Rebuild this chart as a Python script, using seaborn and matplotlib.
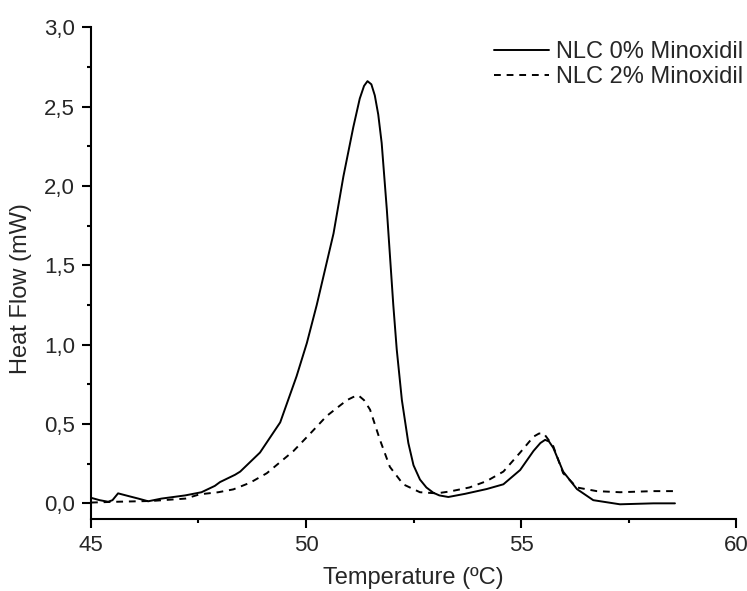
import matplotlib
matplotlib.use("Agg")
import matplotlib.pyplot as plt
import seaborn as sns
import pandas as pd
from matplotlib.ticker import MultipleLocator, FuncFormatter

# NLC 0% Minoxidil (solid)
t0 = [45.0, 45.2, 45.4, 45.5, 45.63, 45.87, 46.1, 46.33, 46.64, 47.19, 47.57, 47.88,
      48.0, 48.35, 48.47, 48.93, 49.4, 49.78, 50.02, 50.25, 50.64, 50.87, 51.1, 51.25,
      51.35, 51.43, 51.52, 51.6, 51.68, 51.76, 51.88, 52.03, 52.11, 52.23, 52.38, 52.5,
      52.65, 52.8, 52.96, 53.1, 53.31, 53.7, 54.2, 54.59, 54.98, 55.29, 55.45, 55.56,
      55.65, 55.75, 55.98, 56.3, 56.68, 57.3, 58.08, 58.58]
h0 = [0.035, 0.02, 0.01, 0.02, 0.063, 0.046, 0.03, 0.013, 0.03, 0.05, 0.07, 0.11,
      0.134, 0.18, 0.20, 0.32, 0.51, 0.80, 1.01, 1.25, 1.70, 2.06, 2.37, 2.55,
      2.63, 2.66, 2.64, 2.57, 2.45, 2.27, 1.85, 1.25, 0.97, 0.65, 0.38, 0.24,
      0.15, 0.10, 0.067, 0.05, 0.04, 0.06, 0.09, 0.12, 0.21, 0.33, 0.38, 0.40,
      0.39, 0.35, 0.20, 0.09, 0.02, -0.006, 0.0, 0.0]

# NLC 2% Minoxidil (dashed)
t2 = [45.0, 45.6, 46.41, 47.2, 47.53, 47.96, 48.31, 48.7, 49.09, 49.71, 50.1, 50.48,
      50.95, 51.1, 51.22, 51.35, 51.49, 51.72, 51.95, 52.26, 52.65, 53.04, 53.35,
      53.8, 54.2, 54.59, 54.98, 55.29, 55.42, 55.53, 55.75, 55.98, 56.3, 56.76,
      57.3, 58.08, 58.58]
h2 = [0.005, 0.01, 0.015, 0.03, 0.057, 0.07, 0.088, 0.13, 0.19, 0.33, 0.44, 0.55,
      0.65, 0.67, 0.68, 0.65, 0.59, 0.40, 0.23, 0.12, 0.07, 0.063, 0.075,
      0.10, 0.14, 0.20, 0.32, 0.42, 0.44, 0.44, 0.36, 0.19, 0.10, 0.077,
      0.07, 0.077, 0.077]

labels = ["NLC 0% Minoxidil", "NLC 2% Minoxidil"]

df = pd.concat([
    pd.DataFrame({"T": t0, "H": h0, "s": labels[0]}),
    pd.DataFrame({"T": t2, "H": h2, "s": labels[1]}),
], ignore_index=True)

sns.set_theme(style="ticks")
plt.rcParams['font.family'] = ['Liberation Sans', 'DejaVu Sans']

fig = plt.figure(figsize=(7.47, 5.91), dpi=100)
ax = fig.add_axes([0.1218, 0.122, 0.8635, 0.832])

sns.lineplot(data=df, x="T", y="H", hue="s", style="s",
             palette=["black", "black"], dashes={labels[0]: "", labels[1]: (3.5, 3)},
             sort=False, estimator=None, linewidth=1.4, ax=ax)

ax.set_xlim(45, 60)
ax.set_ylim(-0.098, 3.0)
ax.xaxis.set_major_locator(MultipleLocator(5))
ax.xaxis.set_minor_locator(MultipleLocator(2.5))
ax.yaxis.set_major_locator(MultipleLocator(0.5))
ax.yaxis.set_minor_locator(MultipleLocator(0.25))
ax.yaxis.set_major_formatter(FuncFormatter(lambda v, p: f"{v:.1f}".replace(".", ",")))
ax.xaxis.set_major_formatter(FuncFormatter(lambda v, p: f"{int(round(v))}"))
ax.tick_params(which="major", length=6.5, width=1.5, labelsize=16, color="black",
               direction="out", pad=5)
ax.tick_params(which="minor", length=3, width=1.5, color="black", direction="out")
for sp in ["left", "bottom"]:
    ax.spines[sp].set_linewidth(1.5)
    ax.spines[sp].set_color("black")
sns.despine(ax=ax)

ax.set_xlabel("Temperature (ºC)", fontsize=17, labelpad=8)
ax.set_ylabel("Heat Flow (mW)", fontsize=17)
ax.yaxis.set_label_coords(-0.0915, 0.4675)

h, l = ax.get_legend_handles_labels()
ax.legend(h, l, loc="upper right", bbox_to_anchor=(743 / 747, 1 - 41 / 591),
          bbox_transform=fig.transFigure, frameon=False,
          fontsize=17, handlelength=2.3, handletextpad=0.3, labelspacing=0.12,
          borderaxespad=0.0, borderpad=0.0)

fig.savefig("out.png", dpi=100)
